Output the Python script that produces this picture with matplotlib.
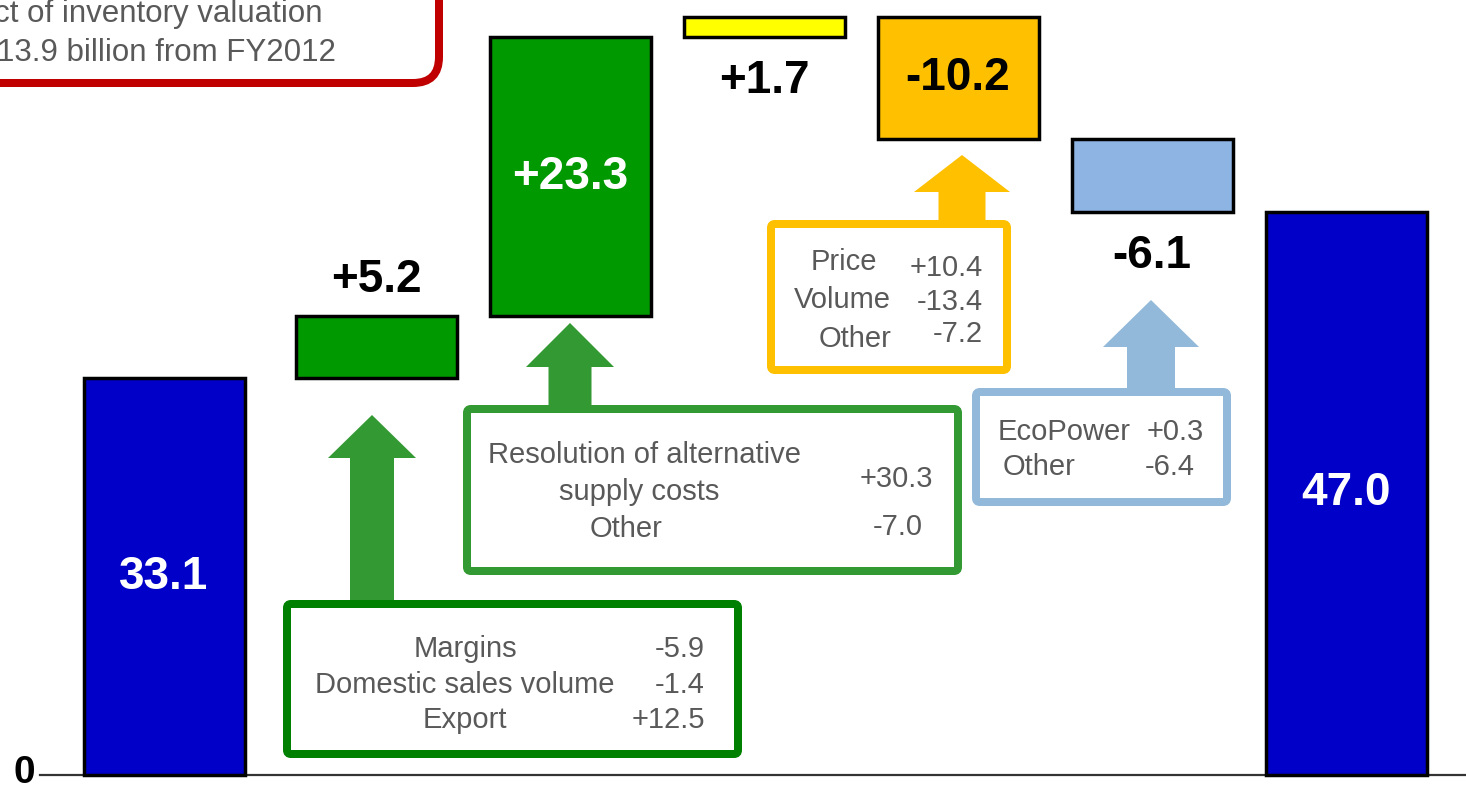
import numpy as np
import matplotlib.pyplot as plt
from matplotlib.patches import FancyBboxPatch, Polygon

plt.rcParams['font.family'] = ['Liberation Sans', 'DejaVu Sans']

# waterfall steps (billion yen)
steps = ['FY2012', 'Margins / volume / export', 'Alternative supply costs', 'Other',
         'Price / volume', 'EcoPower / other', 'FY2013']
values = [33.1, 5.2, 23.3, 1.7, -10.2, -6.1, 47.0]
is_total = [True, False, False, False, False, False, True]

# breakdown boxes
box1_items = ['Margins', 'Domestic sales volume', 'Export']
box1_values = ['-5.9', '-1.4', '+12.5']
box2_items = ['Resolution of alternative', 'supply costs', 'Other']
box2_values = ['+30.3', '-7.0']
box3_items = ['Price', 'Volume', 'Other']
box3_values = ['+10.4', '-13.4', '-7.2']
box4_items = ['EcoPower', 'Other']
box4_values = ['+0.3', '-6.4']
note_lines = ['ct of inventory valuation', '13.9 billion from FY2012']

W, H = 1466, 791
PPU = 11.98   # pixels per billion
Y0 = 775      # pixel row of the zero line

fig = plt.figure(figsize=(W / 100, H / 100), dpi=100)
ax = fig.add_axes([0, 0, 1, 1])
ax.set_xlim(0, W)
ax.set_ylim((Y0 - H) / PPU, Y0 / PPU)
ax.axis('off')


def py(p):  # pixel row (from top) -> value
    return (Y0 - p) / PPU


# bars
xpos = [164, 376, 570, 764, 958, 1152, 1346]
colors = ['#0000C8', '#009900', '#009900', '#FFFF00', '#FFC000', '#8EB4E3', '#0000C8']

bottoms, heights = [], []
run = 0
for v, t in zip(values, is_total):
    if t:
        bottoms.append(0)
        heights.append(v)
        run = v
    else:
        bottoms.append(run + min(v, 0))
        heights.append(abs(v))
        run += v

ax.axhline(0, xmin=40 / W, xmax=1, color='#333333', lw=1.6, zorder=1)
ax.bar(xpos, heights, bottom=bottoms, width=161, color=colors,
       edgecolor='black', linewidth=2.5, zorder=3)

where = ['in', 'above', 'in', 'below', 'in', 'below', 'in']
txtcol = ['white', 'black', 'white', 'black', 'black', 'black', 'white']
for i, v in enumerate(values):
    s = f'{v:.1f}' if is_total[i] else f'{v:+.1f}'
    if where[i] == 'in':
        y = bottoms[i] + heights[i] / 2
    elif where[i] == 'above':
        y = bottoms[i] + heights[i] + 3.0
    else:
        y = bottoms[i] - 3.7
    ax.text(xpos[i], y, s, ha='center', va='center', fontsize=33,
            fontweight='bold', color=txtcol[i], zorder=6)

ax.text(24, py(773), '0', ha='center', va='center', fontsize=28, fontweight='bold')


def arrow(cx, base, neck, tip, shaft, head, color):
    pts = [(cx - shaft / 2, py(base)), (cx - shaft / 2, py(neck)), (cx - head / 2, py(neck)),
           (cx, py(tip)), (cx + head / 2, py(neck)), (cx + shaft / 2, py(neck)),
           (cx + shaft / 2, py(base))]
    ax.add_patch(Polygon(pts, closed=True, facecolor=color, edgecolor='none', zorder=2))


def box(x0, y0, x1, y1, color, lw=8, r=4):
    h = lw / 2
    ax.add_patch(FancyBboxPatch((x0 + h, py(y1 - h)), x1 - x0 - lw, (y1 - y0 - lw) / PPU,
                                boxstyle=f'round,pad=0,rounding_size={r}',
                                mutation_aspect=1 / PPU, facecolor='white',
                                edgecolor=color, linewidth=lw * 0.72, zorder=4))


def txt(x, ybase, s, ha, size=21):
    ax.text(x, py(ybase), s, ha=ha, va='baseline', fontsize=size, color='#595959', zorder=6)


arrow(372, 610, 458, 415, 44, 88, '#339933')
arrow(570, 412, 367, 323, 43, 88, '#339933')
arrow(962, 228, 192, 155, 47, 96, '#FFC000')
arrow(1151, 395, 347, 300, 48, 96, '#93B9DA')

# box 1
box(283, 600, 742, 758, '#008000')
for s, v, yb in zip(box1_items, box1_values, [657, 693, 728]):
    txt(465, yb, s, 'center')
    txt(705, yb, v, 'right')

# box 2
box(463, 405, 962, 575, '#339933')
for s, x, yb in zip(box2_items, [644, 639, 626], [463, 500, 537]):
    txt(x, yb, s, 'center')
for v, x, yb in zip(box2_values, [933, 923], [487, 535]):
    txt(x, yb, v, 'right')

# box 3
box(767, 220, 1011, 374, '#FFC000')
for s, x, yb in zip(box3_items, [877, 891, 891], [270, 308, 347]):
    txt(x, yb, s, 'right')
for v, yb in zip(box3_values, [276, 310, 342]):
    txt(983, yb, v, 'right')

# box 4
box(972, 388, 1231, 506, '#93B9DA')
for s, x, yb in zip(box4_items, [998, 1003], [440, 475]):
    txt(x, yb, s, 'left')
for v, x, yb in zip(box4_values, [1147, 1145], [440, 475]):
    txt(x, yb, v, 'left')

# red note box, cut off at the top left
box(-80, -80, 443, 87, '#C00000', lw=8, r=26)
for s, x, yb in zip(note_lines, [322, 336], [22, 61]):
    txt(x, yb, s, 'right', size=22.5)

plt.savefig('out.png', dpi=100)
